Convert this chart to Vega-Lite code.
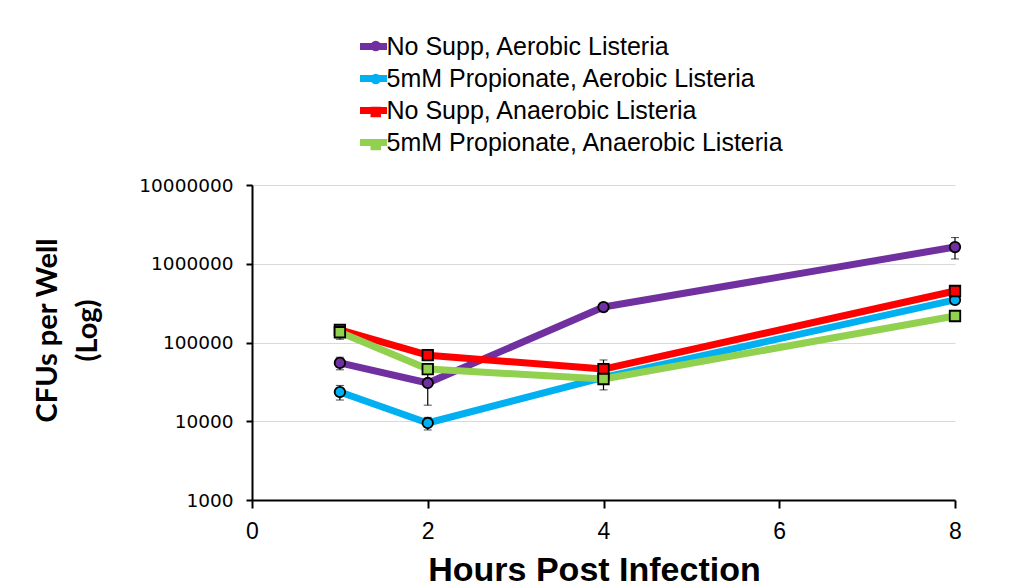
{
  "$schema": "https://vega.github.io/schema/vega-lite/v6.json",
  "width": 703,
  "height": 315,
  "autosize": {"type": "none"},
  "padding": {"left": 252, "top": 185, "right": 79, "bottom": 86},
  "background": "white",
  "config": {
    "view": {"stroke": null},
    "axis": {
      "domainColor": "black",
      "domainWidth": 2,
      "tickColor": "black",
      "tickWidth": 2,
      "labelColor": "black",
      "titleColor": "black",
      "gridColor": "#d9d9d9",
      "gridWidth": 1
    }
  },
  "data": {
    "values": [
      {"series": "No Supp, Aerobic Listeria", "mk": "m1", "hours": 1, "cfu": 55000, "lo": 45000, "hi": 65000},
      {"series": "No Supp, Aerobic Listeria", "mk": "m1", "hours": 2, "cfu": 30600, "lo": 16000, "hi": 45000},
      {"series": "No Supp, Aerobic Listeria", "mk": "m1", "hours": 4, "cfu": 282000, "lo": 265000, "hi": 300000},
      {"series": "No Supp, Aerobic Listeria", "mk": "m1", "hours": 8, "cfu": 1630000, "lo": 1150000, "hi": 2150000},
      {"series": "5mM Propionate, Aerobic Listeria", "mk": "m2", "hours": 1, "cfu": 23500, "lo": 18600, "hi": 28500},
      {"series": "5mM Propionate, Aerobic Listeria", "mk": "m2", "hours": 2, "cfu": 9500, "lo": 7750, "hi": 11200},
      {"series": "5mM Propionate, Aerobic Listeria", "mk": "m2", "hours": 4, "cfu": 36000, "lo": 33000, "hi": 39000},
      {"series": "5mM Propionate, Aerobic Listeria", "mk": "m2", "hours": 8, "cfu": 347000, "lo": 320000, "hi": 375000},
      {"series": "No Supp, Anaerobic Listeria", "mk": "m3", "hours": 1, "cfu": 145000, "lo": 130000, "hi": 160000},
      {"series": "No Supp, Anaerobic Listeria", "mk": "m3", "hours": 2, "cfu": 69000, "lo": 64000, "hi": 74000},
      {"series": "No Supp, Anaerobic Listeria", "mk": "m3", "hours": 4, "cfu": 46000, "lo": 32000, "hi": 60000},
      {"series": "No Supp, Anaerobic Listeria", "mk": "m3", "hours": 8, "cfu": 451000, "lo": 420000, "hi": 480000},
      {"series": "5mM Propionate, Anaerobic Listeria", "mk": "m4", "hours": 1, "cfu": 135000, "lo": 110000, "hi": 160000},
      {"series": "5mM Propionate, Anaerobic Listeria", "mk": "m4", "hours": 2, "cfu": 46000, "lo": 43000, "hi": 49000},
      {"series": "5mM Propionate, Anaerobic Listeria", "mk": "m4", "hours": 4, "cfu": 34400, "lo": 25000, "hi": 43800},
      {"series": "5mM Propionate, Anaerobic Listeria", "mk": "m4", "hours": 8, "cfu": 217000, "lo": 195000, "hi": 240000}
    ]
  },
  "encoding": {
    "x": {
      "field": "hours",
      "type": "quantitative",
      "scale": {"domain": [0, 8], "nice": false},
      "axis": {
        "values": [0, 2, 4, 6, 8],
        "grid": false,
        "tickSize": 8,
        "labelFlush": false,
        "labelFont": "Liberation Sans",
        "labelFontSize": 23,
        "labelPadding": 12,
        "title": "Hours Post Infection",
        "titleFont": "Liberation Sans",
        "titleFontSize": 34,
        "titleFontWeight": "bold",
        "titleBaseline": "alphabetic",
        "titleY": 80,
        "titleX": 342
      }
    }
  },
  "layer": [
    {
      "mark": {"type": "line", "strokeWidth": 7, "strokeJoin": "round"},
      "encoding": {
        "y": {
          "field": "cfu",
          "type": "quantitative",
          "title": ["CFUs per Well", "(Log)"],
          "scale": {"type": "log", "domain": [1000, 10000000], "nice": false},
          "axis": {
            "values": [1000, 10000, 100000, 1000000, 10000000],
            "format": "d",
            "grid": true,
            "tickSize": 6,
            "labelFont": "DejaVu Sans",
            "labelFontSize": 18.5,
            "labelPadding": 13,
            "titleFont": "Lato",
            "titleFontSize": 29,
            "titleFontWeight": "bold",
            "titleLineHeight": 40,
            "titleAngle": -90,
            "titleAlign": "center",
            "titleBaseline": "bottom",
            "titleX": -190,
            "titleY": 145
          }
        },
        "color": {
          "field": "series",
          "type": "nominal",
          "scale": {
            "domain": ["No Supp, Aerobic Listeria", "5mM Propionate, Aerobic Listeria", "No Supp, Anaerobic Listeria", "5mM Propionate, Anaerobic Listeria"],
            "range": ["#7030a0", "#00b0f0", "#ff0000", "#92d050"]
          },
          "legend": {
            "orient": "none",
            "legendX": 104.5,
            "legendY": -155.5,
            "title": null,
            "padding": 0,
            "symbolType": "stroke",
            "symbolStrokeWidth": 7,
            "symbolSize": 729,
            "labelFont": "Liberation Sans",
            "labelFontSize": 25,
            "labelColor": "black",
            "labelOffset": -4,
            "labelLimit": 0,
            "rowPadding": 1
          }
        }
      }
    },
    {
      "mark": {"type": "errorbar", "ticks": {"size": 8, "color": "black"}, "rule": {"color": "black", "strokeWidth": 1.2}},
      "encoding": {
        "y": {"field": "lo", "type": "quantitative", "title": ["CFUs per Well", "(Log)"]},
        "y2": {"field": "hi"}
      }
    },
    {
      "mark": {"type": "point", "filled": true, "size": 110, "stroke": "black", "strokeWidth": 1.8, "opacity": 1},
      "encoding": {
        "y": {"field": "cfu", "type": "quantitative", "title": ["CFUs per Well", "(Log)"]},
        "fill": {
          "field": "mk",
          "type": "nominal",
          "scale": {
            "domain": ["m1", "m2", "m3", "m4"],
            "range": ["#7030a0", "#00b0f0", "#ff0000", "#92d050"]
          },
          "legend": {
            "orient": "none",
            "legendX": 111.25,
            "legendY": -151.5,
            "title": null,
            "padding": 0,
            "symbolSize": 110,
            "symbolStrokeColor": "black",
            "symbolStrokeWidth": 1.5,
            "symbolOpacity": 1,
            "labelFont": "Liberation Sans",
            "labelFontSize": 25,
            "labelExpr": "''",
            "labelOffset": 0,
            "labelLimit": 0,
            "rowPadding": 7
          }
        },
        "shape": {
          "field": "mk",
          "type": "nominal",
          "scale": {
            "domain": ["m1", "m2", "m3", "m4"],
            "range": ["circle", "circle", "square", "square"]
          },
          "legend": {
            "orient": "none",
            "legendX": 111.25,
            "legendY": -151.5,
            "title": null,
            "padding": 0,
            "symbolSize": 110,
            "symbolStrokeColor": "black",
            "symbolStrokeWidth": 1.5,
            "symbolOpacity": 1,
            "labelFont": "Liberation Sans",
            "labelFontSize": 25,
            "labelExpr": "''",
            "labelOffset": 0,
            "labelLimit": 0,
            "rowPadding": 7
          }
        }
      }
    }
  ]
}
